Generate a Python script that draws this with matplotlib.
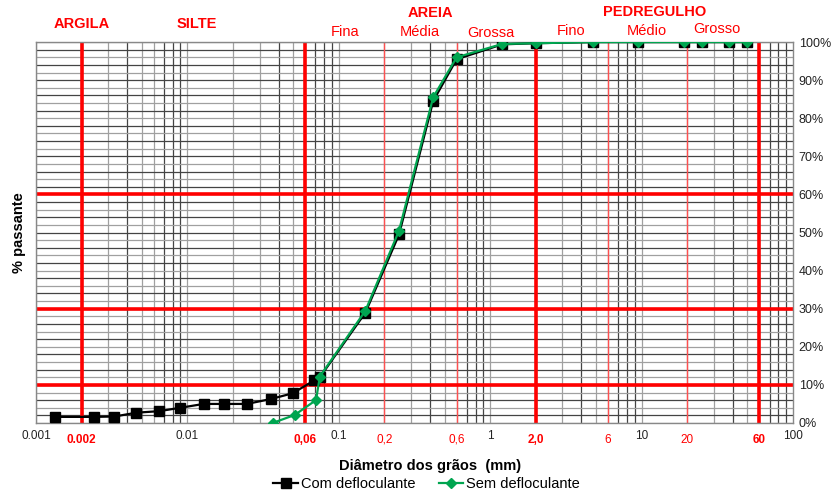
import numpy as np
import matplotlib.pyplot as plt
from matplotlib.ticker import NullFormatter, NullLocator
from matplotlib.transforms import blended_transform_factory

plt.rcParams['font.family'] = ['Liberation Sans', 'DejaVu Sans']

# Com defloculante (peneiramento + sedimentacao)
com_diam = [50, 38, 25, 19, 9.5, 4.8, 2.0, 1.2, 0.6, 0.42, 0.25, 0.15, 0.075,
            0.069, 0.0496, 0.0357, 0.0247, 0.0174, 0.0128, 0.009, 0.0065,
            0.0046, 0.0033, 0.0024, 0.00134]
com_pass = [100, 100, 100, 100, 100, 100, 99.7, 99.4, 95.5, 84.5, 49.5, 29.0, 12.0,
            11.2, 7.8, 6.3, 5.0, 5.0, 5.0, 4.0, 3.1, 2.7, 1.7, 1.6, 1.6]

# Sem defloculante
sem_diam = [50, 38, 25, 19, 9.5, 4.8, 2.0, 1.2, 0.6, 0.42, 0.25, 0.15, 0.075,
            0.0707, 0.0511, 0.0366]
sem_pass = [100, 100, 100, 100, 100, 100, 99.7, 99.5, 96.0, 85.5, 50.5, 29.5, 12.2,
            6.0, 2.1, 0.0]

# limites das fracoes (ABNT)
thick_limits = [0.002, 0.06, 2.0, 60]
thin_limits = [0.2, 0.6, 6, 20]
red_hlines = [10, 30, 60]

black_ticks = [0.001, 0.01, 0.1, 1, 10, 100]
black_labels = ['0.001', '0.01', '0.1', '1', '10', '100']
red_ticks = [0.002, 0.06, 0.2, 0.6, 2.0, 6, 20, 60]
red_labels = ['0.002', '0,06', '0,2', '0,6', '2,0', '6', '20', '60']
red_bold = [True, True, False, False, True, False, False, True]

# (texto, diametro, peso, altura em fracao da figura)
top_labels = [('ARGILA', 0.002, 'bold', 0.952), ('SILTE', 0.0116, 'bold', 0.952),
              ('AREIA', 0.40, 'bold', 0.974), ('PEDREGULHO', 12.2, 'bold', 0.976),
              ('Fina', 0.11, 'normal', 0.936), ('Média', 0.344, 'normal', 0.936),
              ('Grossa', 1.01, 'normal', 0.934), ('Fino', 3.42, 'normal', 0.938),
              ('Médio', 10.9, 'normal', 0.938), ('Grosso', 31.5, 'normal', 0.941)]

fig = plt.figure(figsize=(8.33, 4.95), dpi=100)
ax = fig.add_axes([0.0432, 0.1455, 0.9088, 0.7695])
ax.set_xscale('log')
ax.set_xlim(0.001, 100)
ax.set_ylim(0, 100)

# grade secundaria
for dec in [0.001, 0.01, 0.1, 1, 10]:
    for k in range(1, 10):
        col = '#444444' if k in (4, 7, 8, 9) else '#a0a0a0'
        ax.axvline(dec * k, color=col, lw=0.9, zorder=1)
for i, yv in enumerate(range(0, 101, 2)):
    col = '#444444' if i % 2 else '#a0a0a0'
    ax.axhline(yv, color=col, lw=0.9, zorder=1)

for xv in thick_limits:
    ax.axvline(xv, color='#ff0000', lw=2.6, zorder=2)
for xv in thin_limits:
    ax.axvline(xv, color='#ff5050', lw=1.0, zorder=2)
for yv in red_hlines:
    ax.axhline(yv, color='#ff0000', lw=2.6, zorder=2)

ax.plot(com_diam, com_pass, color='black', lw=1.6, marker='s', ms=7,
        label='Com defloculante', zorder=4)
ax.plot(sem_diam, sem_pass, color='#00a550', lw=1.6, marker='D', ms=5.5,
        label='Sem defloculante', zorder=5)

ax.xaxis.set_minor_locator(NullLocator())
ax.xaxis.set_minor_formatter(NullFormatter())
ax.set_xticks(black_ticks)
ax.set_xticklabels(black_labels)
ax.tick_params(axis='x', length=0, labelsize=8.5, pad=5, colors='#222222')
for xv, lab, b in zip(red_ticks, red_labels, red_bold):
    ax.text(xv, -2.8, lab, color='#ff0000', fontsize=8.5,
            fontweight='bold' if b else 'normal', ha='center', va='top')

ax.yaxis.tick_right()
ax.set_yticks(range(0, 101, 10))
ax.set_yticklabels([f'{v}%' for v in range(0, 101, 10)])
ax.tick_params(axis='y', length=0, labelsize=9, pad=4, colors='#222222')
for s in ax.spines.values():
    s.set_color('#888888')
    s.set_linewidth(1.0)

ax.set_ylabel('% passante', fontsize=10.5, fontweight='bold', labelpad=7)
ax.yaxis.set_label_position('left')
ax.set_xlabel('Diâmetro dos grãos  (mm)', fontsize=10.5, fontweight='bold', labelpad=12)
ax.xaxis.label.set_x(0.521)

trans = blended_transform_factory(ax.transData, fig.transFigure)
for txt, xv, w, yf in top_labels:
    ax.text(xv, yf, txt, color='#ff0000', fontsize=10.5,
            fontweight=w, ha='center', va='center', transform=trans, clip_on=False)

ax.legend(loc='upper center', bbox_to_anchor=(0.516, -0.115), ncol=2, frameon=False,
          fontsize=10.5, handlelength=1.7, handletextpad=0.2, columnspacing=1.6,
          borderpad=0.2)

fig.savefig('out.png', dpi=100)
